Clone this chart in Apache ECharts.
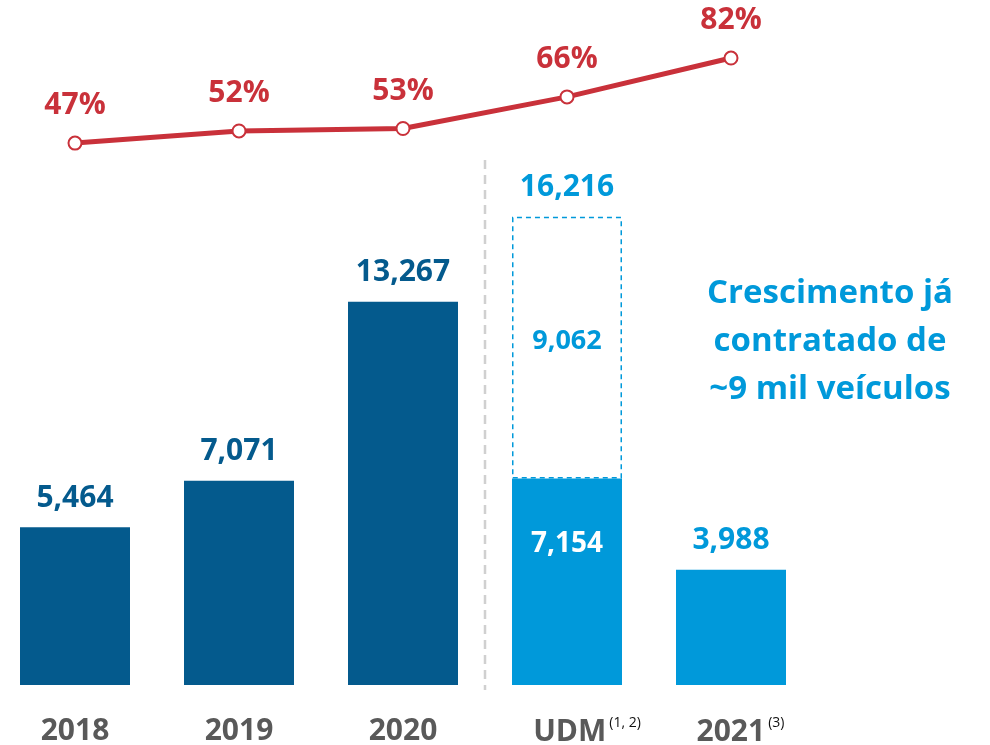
<!DOCTYPE html>
<html><head><meta charset="utf-8">
<script src="https://cdn.jsdelivr.net/npm/echarts@6/dist/echarts.min.js"></script>
<style>html,body{margin:0;padding:0;background:#fff}#c{width:990px;height:745px}</style>
</head><body><div id="c"></div>
<script>
const categories = ['2018', '2019', '2020', 'UDM', '2021'];
const fleet = [5464, 7071, 13267, 7154, 3988];
const contracted = [null, null, null, 9062, null];
const totals = [null, null, null, 16216, null];
const share = [47, 52, 53, 66, 82];
const footnotes = ['', '', '', '(1, 2)', '(3)'];

const DARK = '#045A8D', LIGHT = '#0099DA', RED = '#C9313A', GRAY = '#595959';
const FONT = '"Open Sans"';
const isLight = i => i >= 3;

const chart = echarts.init(document.getElementById('c'));
const opt = {
  animation: false,
  textStyle: { fontFamily: FONT },
  grid: [
    { left: -7, width: 820, top: 107.4, bottom: 60, outerBoundsMode: 'none', containLabel: false },
    { left: -7, width: 820, top: 38.6, height: 121.5, outerBoundsMode: 'none', containLabel: false }
  ],
  xAxis: [
    { type: 'category', gridIndex: 0, data: categories,
      axisLine: { show: false }, axisTick: { show: false },
      axisLabel: { margin: 31, interval: 0,
        formatter: (v, i) => {
          const fn = footnotes[i];
          if (!fn) return '{m|' + v + '}';
          return '{' + (fn.length > 3 ? 'p1' : 'p2') + '|}{m|' + v + '}{s|' + fn + '}';
        },
        rich: {
          m: { fontFamily: FONT, fontWeight: 'bold', fontSize: 30, color: GRAY },
          s: { fontFamily: FONT, fontSize: 14, color: '#111', padding: [0, 0, 18, 3] },
          p1: { width: 40 }, p2: { width: 19 }
        } } },
    { type: 'category', gridIndex: 1, data: categories, show: false }
  ],
  yAxis: [
    { type: 'value', gridIndex: 0, min: 0, max: 20000, show: false, splitLine: { show: false } },
    { type: 'value', gridIndex: 1, min: 40, max: 90, show: false, splitLine: { show: false } }
  ],
  series: [
    { type: 'bar', name: 'fleet', stack: 's', barWidth: 110, xAxisIndex: 0, yAxisIndex: 0,
      data: fleet.map((v, i) => ({
        value: v,
        itemStyle: { color: isLight(i) ? LIGHT : DARK },
        label: i === 3 ? { position: 'insideTop', distance: 52, color: '#fff', fontSize: 28 }
                       : { position: 'top', distance: 14, color: isLight(i) ? LIGHT : DARK, fontSize: 30 }
      })),
      label: { show: true, fontFamily: FONT, fontWeight: 'bold',
        formatter: p => p.value.toLocaleString('en-US') } },
    { type: 'bar', name: 'contracted', stack: 's', barWidth: 106, xAxisIndex: 0, yAxisIndex: 0,
      data: contracted,
      itemStyle: { color: 'rgba(0,0,0,0)', borderColor: LIGHT, borderWidth: 1.5, borderType: [5, 4] },
      label: { show: true, position: 'inside', offset: [0, -6], color: LIGHT, fontFamily: FONT,
        fontWeight: 'bold', fontSize: 27, formatter: p => p.value.toLocaleString('en-US') } },
    { type: 'scatter', name: 'total', xAxisIndex: 0, yAxisIndex: 0, symbolSize: 0,
      itemStyle: { opacity: 1 }, data: totals,
      label: { show: true, position: 'top', distance: 14, color: LIGHT, fontFamily: FONT,
        fontWeight: 'bold', fontSize: 30, formatter: p => p.value.toLocaleString('en-US') } },
    { type: 'line', name: 'share', xAxisIndex: 1, yAxisIndex: 1, data: share,
      lineStyle: { color: RED, width: 5 }, symbol: 'circle', symbolSize: 13,
      itemStyle: { color: '#fff', borderColor: RED, borderWidth: 2 },
      label: { show: true, position: 'top', distance: 15, color: RED, fontFamily: FONT,
        fontWeight: 'bold', fontSize: 30, formatter: p => p.value + '%' } }
  ]
};
chart.setOption(opt);

const x1 = chart.convertToPixel({ xAxisIndex: 0 }, categories[2]);
const x2 = chart.convertToPixel({ xAxisIndex: 0 }, categories[3]);
const sepX = (x1 + x2) / 2;
const annX = chart.convertToPixel({ xAxisIndex: 0 }, categories[4]) + 99;
chart.setOption({
  graphic: [
    { type: 'line', shape: { x1: sepX, y1: 160, x2: sepX, y2: 690 },
      style: { stroke: '#D0D0D0', lineWidth: 2.5, lineDash: [9, 6] } },
    { type: 'text', x: annX, y: 270,
      style: { text: 'Crescimento já\ncontratado de\n~9 mil veículos', fill: LIGHT,
        font: 'bold 33px ' + FONT, lineHeight: 48, align: 'center' } }
  ]
});
</script>
</body></html>
